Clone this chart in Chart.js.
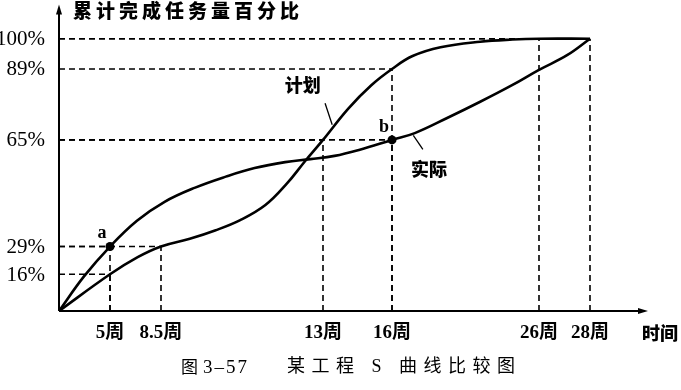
<!DOCTYPE html>
<html><head><meta charset="utf-8">
<script src="https://cdn.jsdelivr.net/npm/chart.js@4/dist/chart.umd.min.js"></script>
<style>html,body{margin:0;padding:0;background:#fff;}canvas{display:block;}</style>
</head><body>
<canvas id="c" width="681" height="390"></canvas>
<script>
// ---------- data (weeks, cumulative % of work) ----------
const weekTicks = [5, 8.5, 13, 16, 26, 28];
const weekTickLabels = ['5周', '8.5周', '13周', '16周', '26周', '28周'];
const pctTicks = [16, 29, 65, 89, 100];
const pctTickLabels = ['16%', '29%', '65%', '89%', '100%'];

const planWeeks = [0, 5, 6.9, 8.5, 9.3, 10, 10.7, 11.4, 12.0, 12.5, 13, 14.1, 15.1, 16, 17.4, 19.3, 22, 24.2, 26, 28];
const planPct   = [0, 16, 24, 29, 31.6, 34.4, 37.9, 43.0, 50.3, 57.8, 65, 75.6, 83.5, 89, 93.7, 96.9, 98.9, 99.7, 100, 100];

const actualWeeks = [0, 2.45, 5, 6.85, 8.6, 9.45, 10.3, 11.1, 11.95, 12.65, 13.5, 14.6, 16, 17.55, 19.75, 22, 24.2, 26, 27.1, 28];
const actualPct   = [0, 15.1, 29, 37.7, 44.1, 48.9, 52.6, 55.5, 57.5, 58.5, 59.6, 61.7, 65, 67.3, 72.4, 77.9, 83.6, 88.7, 94, 100];

const markLabels = ['a', 'b'];
const markWeeks = [5, 16];
const markPct = [29, 65];

// dashed reference corners (week, pct): lines drawn from both axes to each corner
const guideWeeks = [5, 5, 8.5, 13, 16, 16, 26, 28];
const guidePct   = [16, 29, 29, 65, 65, 89, 100, 100];

// ---------- axis layout (the printed axes are not to scale) ----------
const xStops = [[0, 0], [5, 51], [8.5, 102], [13, 264], [16, 333], [26, 480], [28, 531]];
const yStops = [[0, 0], [16, 37], [29, 65], [65, 172.5], [89, 244], [100, 274.5]];
const X_MAX = 589, Y_MAX = 309;

function piecewise(stops, v) {
  for (let i = 1; i < stops.length; i++) {
    const [a0, b0] = stops[i - 1], [a1, b1] = stops[i];
    if (v <= a1 || i === stops.length - 1) return b0 + (v - a0) * (b1 - b0) / (a1 - a0);
  }
}
const fx = w => piecewise(xStops, w);
const fy = p => piecewise(yStops, p);

const planData = planWeeks.map((w, i) => ({x: fx(w), y: fy(planPct[i])}));
const actualData = actualWeeks.map((w, i) => ({x: fx(w), y: fy(actualPct[i])}));
const markData = markWeeks.map((w, i) => ({x: fx(w), y: fy(markPct[i])}));

const CJK = '"Noto Sans CJK SC"';
const SERIF = '"Liberation Serif", "Noto Sans CJK SC"';

const decor = {
  id: 'decor',
  beforeDatasetsDraw(chart) {
    const ctx = chart.ctx, xs = chart.scales.x, ys = chart.scales.y;
    const X = w => xs.getPixelForValue(fx(w)), Y = p => ys.getPixelForValue(fy(p));
    const ox = xs.getPixelForValue(0), oy = ys.getPixelForValue(0);
    ctx.save();
    ctx.strokeStyle = '#000'; ctx.lineWidth = 1.6; ctx.setLineDash([6, 4]);
    guideWeeks.forEach((w, i) => {
      const px = X(w), py = Y(guidePct[i]);
      ctx.beginPath(); ctx.moveTo(ox, py); ctx.lineTo(px, py); ctx.stroke();
      ctx.beginPath(); ctx.moveTo(px, oy); ctx.lineTo(px, py); ctx.stroke();
    });
    ctx.setLineDash([]);
    const top = ys.getPixelForValue(Y_MAX), right = xs.getPixelForValue(X_MAX);
    ctx.lineWidth = 2;
    ctx.beginPath(); ctx.moveTo(ox, oy); ctx.lineTo(ox, top + 6); ctx.stroke();
    ctx.beginPath(); ctx.moveTo(ox, oy); ctx.lineTo(right - 6, oy); ctx.stroke();
    ctx.fillStyle = '#000';
    ctx.beginPath(); ctx.moveTo(ox, top); ctx.lineTo(ox - 3, top + 10); ctx.lineTo(ox + 3, top + 10); ctx.closePath(); ctx.fill();
    ctx.beginPath(); ctx.moveTo(right, oy); ctx.lineTo(right - 10, oy - 3); ctx.lineTo(right - 10, oy + 3); ctx.closePath(); ctx.fill();
    ctx.restore();
  },
  afterDatasetsDraw(chart) {
    const ctx = chart.ctx, xs = chart.scales.x, ys = chart.scales.y;
    const X = w => xs.getPixelForValue(fx(w)), Y = p => ys.getPixelForValue(fy(p));
    const ox = xs.getPixelForValue(0), oy = ys.getPixelForValue(0);
    ctx.save();
    ctx.fillStyle = '#000'; ctx.strokeStyle = '#000';
    // y tick labels
    ctx.font = '21px ' + SERIF; ctx.textAlign = 'right'; ctx.textBaseline = 'middle';
    pctTicks.forEach((p, i) => ctx.fillText(pctTickLabels[i], ox - 14, Y(p) + 1));
    // x tick labels
    ctx.font = 'bold 19px ' + SERIF; ctx.textAlign = 'center';
    weekTicks.forEach((w, i) => ctx.fillText(weekTickLabels[i], X(w), oy + 22));
    ctx.font = '900 18px ' + CJK;
    ctx.fillText('时间', xs.getPixelForValue(X_MAX) + 12, oy + 22);
    // y title
    ctx.textAlign = 'left'; ctx.font = '900 19px ' + CJK;
    ctx.letterSpacing = '4px';
    ctx.fillText('累计完成任务量百分比', ox + 14, 11);
    ctx.letterSpacing = '0px';
    // point letters
    ctx.font = 'bold 18px ' + SERIF; ctx.textAlign = 'center';
    markWeeks.forEach((w, i) => ctx.fillText(markLabels[i], X(w) - 8, Y(markPct[i]) - 13));
    // curve labels with leaders
    ctx.font = '900 18px ' + CJK;
    ctx.fillText('计划', X(12.44), Y(83.6));
    ctx.fillText('实际', X(18.52), Y(55.1));
    ctx.lineWidth = 1.3;
    ctx.beginPath(); ctx.moveTo(X(13.09), Y(77.4)); ctx.lineTo(X(13.4), Y(70.1)); ctx.stroke();
    ctx.beginPath(); ctx.moveTo(X(17.45), Y(66.5)); ctx.lineTo(X(18.1), Y(61.8)); ctx.stroke();
    // caption
    ctx.textAlign = 'left';
    ctx.font = '17px ' + CJK;
    ctx.fillText('图', 181, 367);
    ctx.font = '19px "Liberation Serif"';
    ctx.letterSpacing = '2px';
    ctx.fillText('3–57', 203, 368);
    ctx.font = '18px ' + SERIF;
    ctx.letterSpacing = '6.5px';
    ctx.fillText('某工程 S 曲线比较图', 287, 367);
    ctx.letterSpacing = '0px';
    ctx.restore();
  }
};

new Chart(document.getElementById('c'), {
  type: 'line',
  data: {
    datasets: [
      {label: '计划', data: planData, borderColor: '#000', borderWidth: 2.6, pointRadius: 0, tension: 0.4, fill: false},
      {label: '实际', data: actualData, borderColor: '#000', borderWidth: 2.6, pointRadius: 0, tension: 0.4, fill: false},
      {label: 'marks', data: markData, showLine: false, pointRadius: 4.5, pointBackgroundColor: '#000', pointBorderColor: '#000', borderWidth: 0}
    ]
  },
  options: {
    responsive: false, animation: false, events: [],
    layout: {padding: {left: 59, right: 33, top: 2, bottom: 79}},
    scales: {
      x: {type: 'linear', min: 0, max: X_MAX, display: false},
      y: {type: 'linear', min: 0, max: Y_MAX, display: false}
    },
    plugins: {legend: {display: false}, tooltip: {enabled: false}},
    clip: false
  },
  plugins: [decor]
});
</script>
</body></html>
